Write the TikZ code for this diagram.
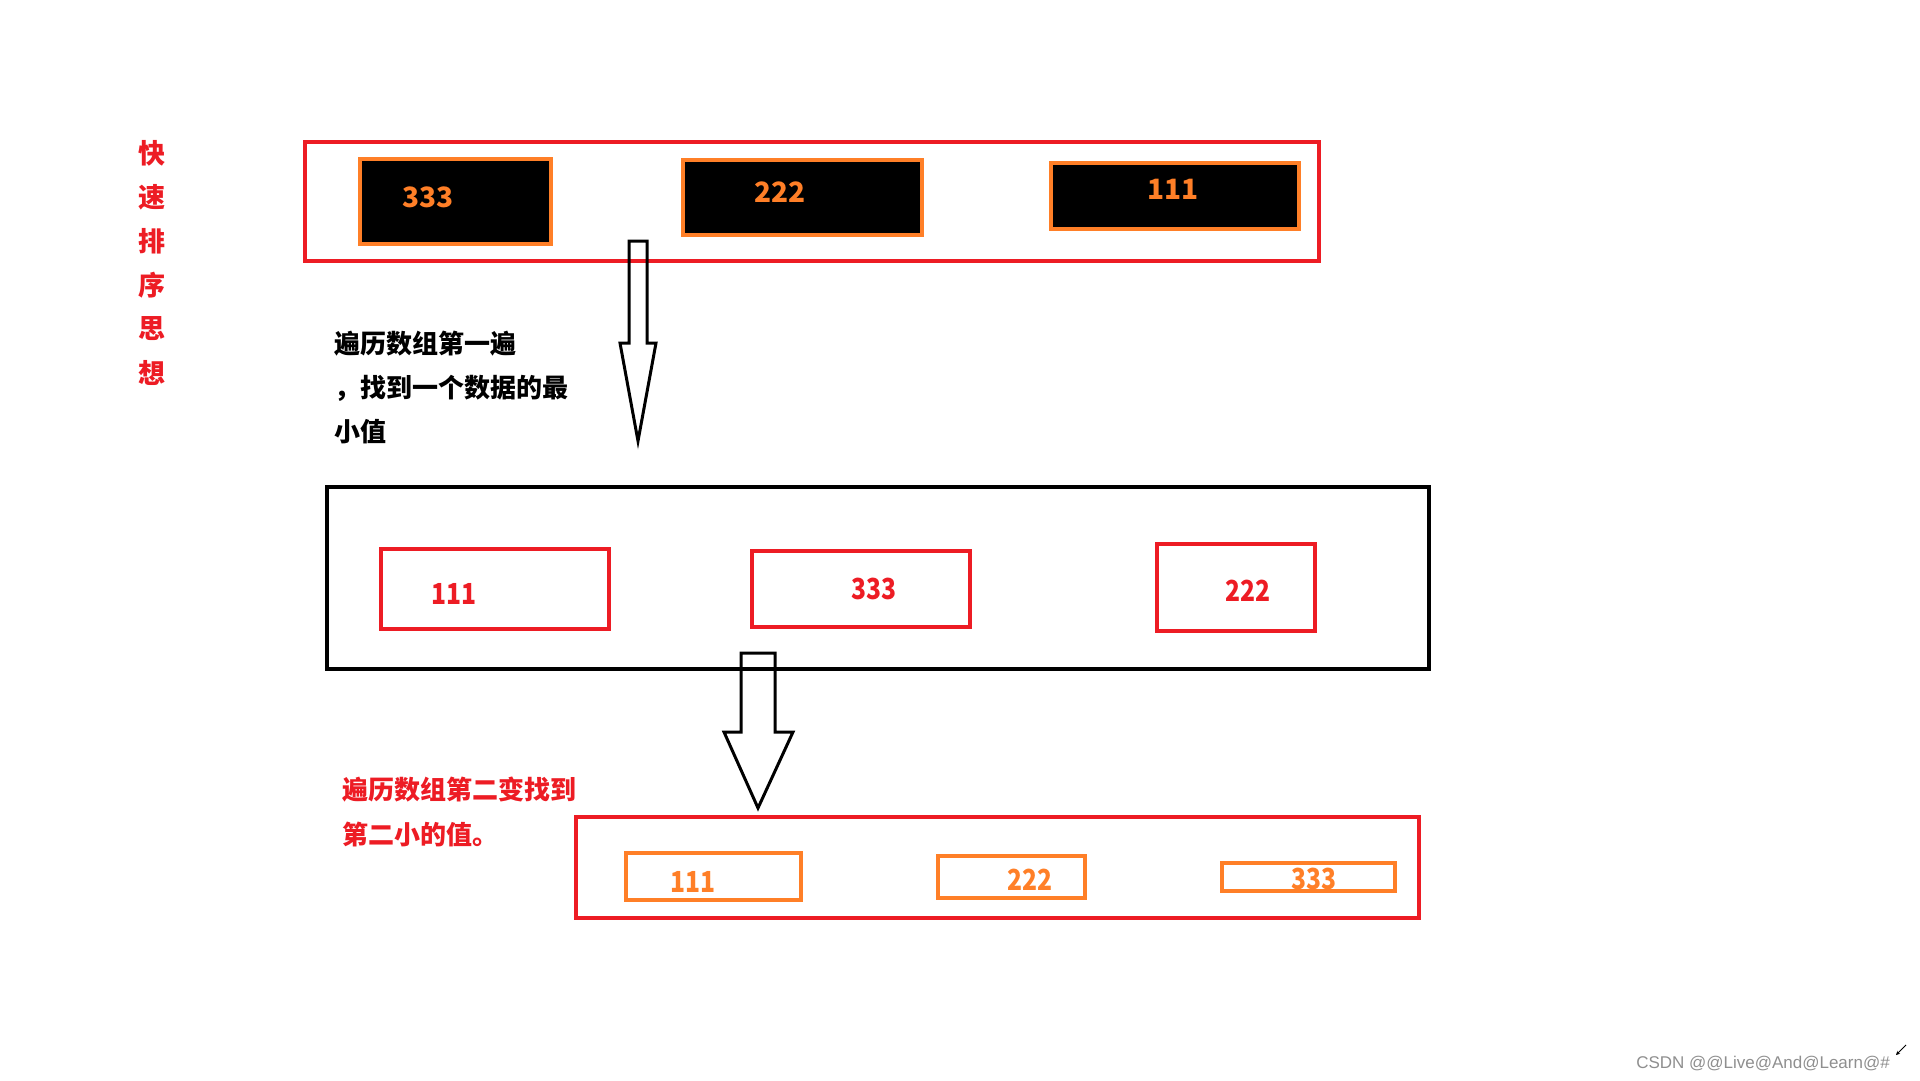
\documentclass[tikz,border=0pt]{standalone}
\usepackage{fontspec}
\setmainfont{Noto Sans CJK SC}
\newfontfamily\narrownum[FakeStretch=0.85]{Noto Sans CJK SC}
\newfontfamily\wmfont{Liberation Sans}
\usetikzlibrary{arrows.meta}
\definecolor{pred}{HTML}{ED1C24}
\definecolor{porange}{HTML}{FF7F27}
\definecolor{wmgray}{HTML}{8F8F8F}
\begin{document}
\begin{tikzpicture}[x=1pt,y=-1pt,
  blackcell/.style={draw=porange,fill=black,line width=4pt},
  blackframe/.style={draw=black,line width=4pt},
  redcell/.style={draw=pred,line width=3.5pt},
  orangecell/.style={draw=porange,line width=3.5pt},
  cellbox/.style={rectangle,inner sep=0pt,outer sep=0pt},
  num/.style={font=\fontsize{28}{30}\selectfont\bfseries,inner sep=0pt},
  thinnum/.style={font=\narrownum\fontsize{29}{30}\selectfont\bfseries,inner sep=0pt},
  cjktext/.style={font=\fontsize{26}{28}\selectfont\bfseries,inner sep=0pt,anchor=west},
  sidechar/.style={font=\fontsize{27}{28}\selectfont\bfseries,text=pred,inner sep=0pt},
  blockarrow/.style={draw=black,line width=3pt,line join=miter}
]
\useasboundingbox[fill=white] (0,0) rectangle (1920,1080);

% side title
\node[sidechar] (s1) at (152,153) {快};
\node[sidechar] (s2) at (152,197) {速};
\node[sidechar] (s3) at (152,241) {排};
\node[sidechar] (s4) at (152,285) {序};
\node[sidechar] (s5) at (152,329) {思};
\node[sidechar] (s6) at (152,373) {想};

% top row
\node[cellbox,draw=pred,line width=4pt,minimum width=1014pt,minimum height=119pt] (top) at (812,201.5) {};
\node[cellbox,blackcell,minimum width=191pt,minimum height=85pt] (t1) at (455.5,201.5) {};
\node[cellbox,blackcell,minimum width=239pt,minimum height=75pt] (t2) at (802.5,197.5) {};
\node[cellbox,blackcell,minimum width=248pt,minimum height=66pt] (t3) at (1175,196) {};
\node[num,text=porange] (t1n) at (428,197) {333};
\node[num,text=porange] (t2n) at (780,192) {222};
\node[num,text=porange] (t3n) at (1173,189) {111};

% arrow 1
\coordinate (a1top) at (638,241);
\coordinate (a1tip) at (638,441);
\draw[blockarrow] ([xshift=-9pt]a1top) -- ([xshift=9pt]a1top) -- ([xshift=9pt]a1top |- 0,343) -- ([xshift=18pt]a1top |- 0,343) -- (a1tip) -- ([xshift=-18pt]a1top |- 0,343) -- ([xshift=-9pt]a1top |- 0,343) -- cycle;

% text 1
\node[cjktext,text=black] (d1) at (334,344) {遍历数组第一遍};
\node[cjktext,text=black] (d2) at (334,388) {，找到一个数据的最};
\node[cjktext,text=black] (d3) at (334,432) {小值};

% middle row
\node[cellbox,blackframe,minimum width=1102pt,minimum height=182pt] (mid) at (878,578) {};
\node[cellbox,redcell,minimum width=228pt,minimum height=80pt] (m1) at (495,589) {};
\node[cellbox,redcell,minimum width=218pt,minimum height=76pt] (m2) at (861,589) {};
\node[cellbox,redcell,minimum width=158pt,minimum height=87pt] (m3) at (1236,587.5) {};
\node[thinnum,text=pred] (m1n) at (454,594) {111};
\node[thinnum,text=pred] (m2n) at (874,589) {333};
\node[thinnum,text=pred] (m3n) at (1248,591) {222};

% arrow 2
\coordinate (a2top) at (758,653);
\coordinate (a2tip) at (758,808);
\draw[blockarrow] ([xshift=-17pt]a2top) -- ([xshift=17pt]a2top) -- ([xshift=17pt]a2top |- 0,732) -- ([xshift=35pt]a2top |- 0,732) -- (a2tip) -- ([xshift=-34pt]a2top |- 0,732) -- ([xshift=-17pt]a2top |- 0,732) -- cycle;

% text 2
\node[cjktext,text=pred] (e1) at (342,790) {遍历数组第二变找到};
\node[cjktext,text=pred] (e2) at (342,834) {第二小的值。};

% bottom row
\node[cellbox,draw=pred,line width=3.5pt,minimum width=843pt,minimum height=101pt] (bot) at (997.5,867.5) {};
\node[cellbox,orangecell,minimum width=175pt,minimum height=47pt] (b1) at (713.5,876.5) {};
\node[cellbox,orangecell,minimum width=147pt,minimum height=42pt] (b2) at (1011.5,877) {};
\node[cellbox,orangecell,minimum width=173pt,minimum height=28pt] (b3) at (1308.5,877) {};
\node[thinnum,text=porange] (b1n) at (693,882) {111};
\node[thinnum,text=porange] (b2n) at (1030,880) {222};
\node[thinnum,text=porange] (b3n) at (1314,879) {333};

% watermark
\node[font=\wmfont\fontsize{17}{18}\selectfont,text=wmgray,anchor=east,inner sep=0pt] (wm) at (1890,1063) {CSDN @@Live@And@Learn@\#};
\coordinate (cur1) at (1906,1045);
\coordinate (cur2) at (1896,1055);
\draw[line width=1pt,-{Stealth[length=4pt,width=4pt]}] (cur1) -- (cur2);
\end{tikzpicture}
\end{document}
